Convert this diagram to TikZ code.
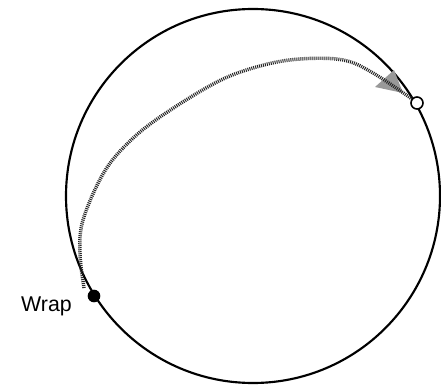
\documentclass[tikz,border=0pt]{standalone}
\usepackage{fontspec}
\setmainfont{Liberation Sans}
\usetikzlibrary{positioning}

\begin{document}
\begin{tikzpicture}[
    x=0.75pt, y=-0.75pt,
    rim/.style={draw, line width=1.6pt},
    wrapdot/.style={circle, fill, inner sep=0pt, minimum size=9.5pt},
    opendot/.style={circle, draw, fill=white, line width=1.2pt, inner sep=0pt, minimum size=9pt},
    trail/.style={draw=black!85, line width=2.6pt, dash pattern=on 0.75pt off 0.75pt},
    headfill/.style={fill=black!40, draw=none}
]
\useasboundingbox (0,0) rectangle (441,388);
\coordinate (ctr) at (253,196);
\draw[rim] (ctr) circle[radius=187];
\fill[headfill] (375,87) -- (394,70) -- (403,93) -- cycle;
% the speckled path
\draw[trail] plot[smooth, tension=0.6] coordinates {(84,288) (80,253) (83,220) (103,174) (127,144) (160,117) (217,82) (260,66) (300,59) (343,60) (373,73) (412,99)};
\node[wrapdot] (wrap) at (94,296) {};
\node[opendot] (stop) at (417,103) {};
\node[anchor=base east, inner sep=0pt, font=\fontsize{16}{19}\selectfont] (wraplbl) at (72,311) {Wrap};
\end{tikzpicture}
\end{document}
